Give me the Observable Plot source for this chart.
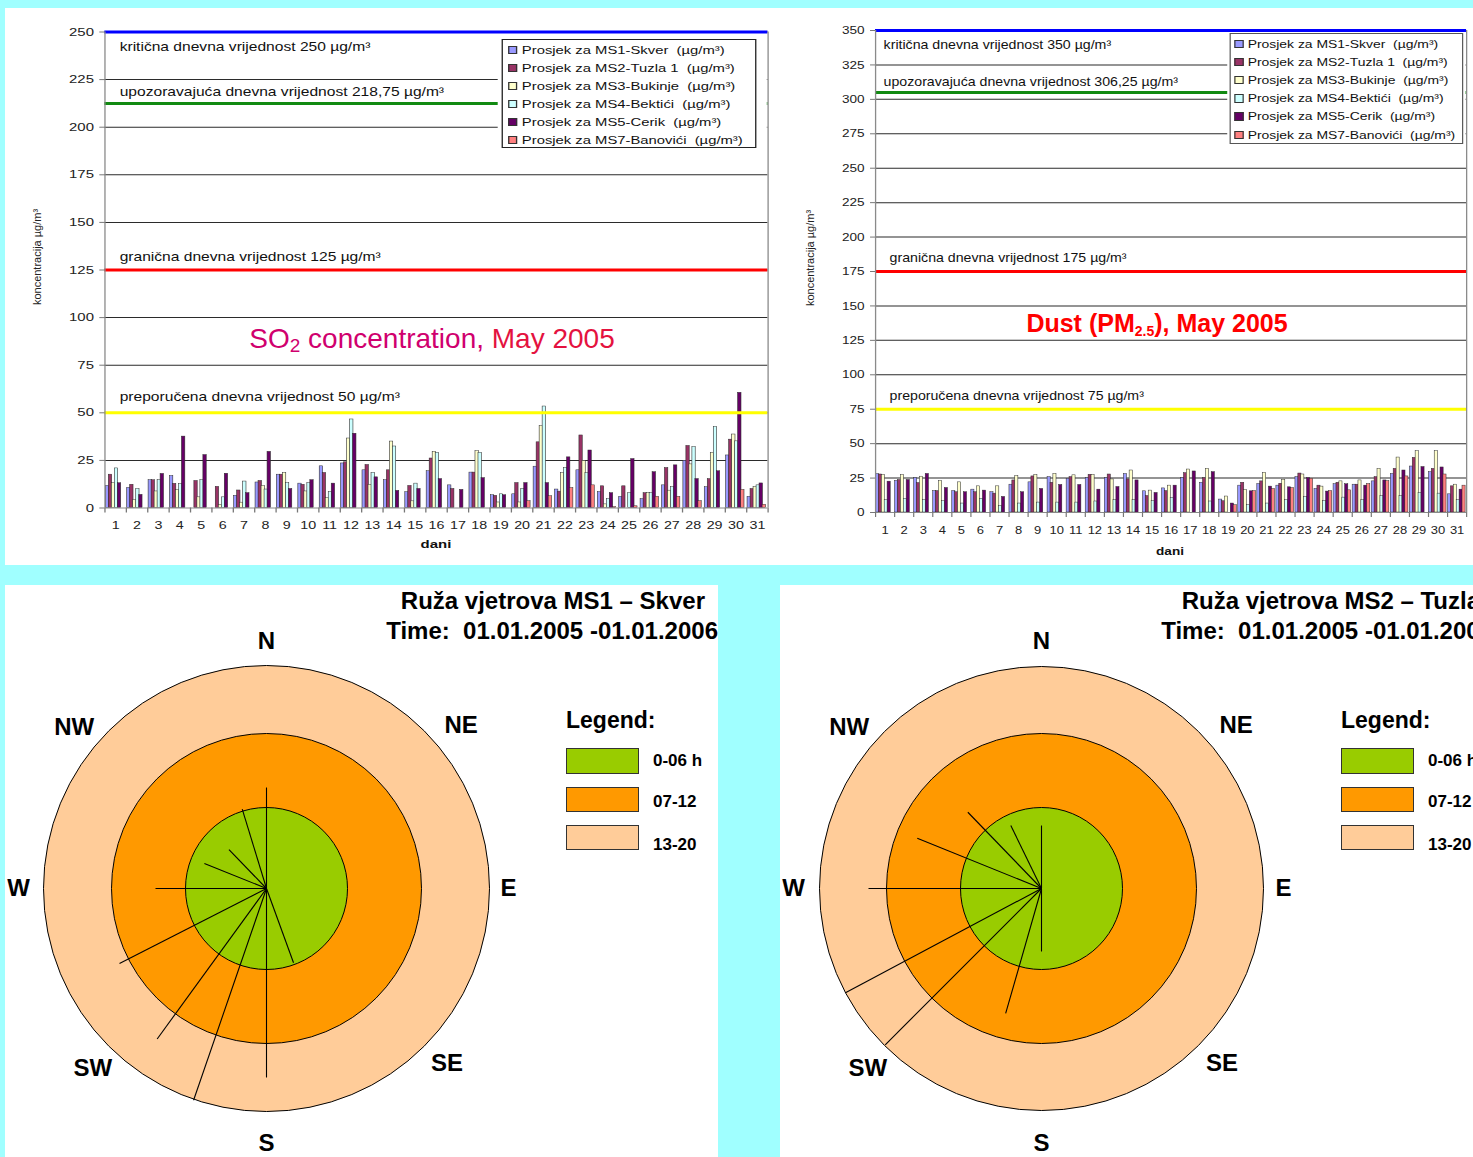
<!DOCTYPE html>
<html><head><meta charset="utf-8">
<script src="https://cdn.jsdelivr.net/npm/d3@7"></script>
<script src="https://cdn.jsdelivr.net/npm/@observablehq/plot@0.6"></script>
<style>
body{margin:0;width:1473px;height:1157px;background:#a0ffff;position:relative;overflow:hidden;font-family:"Liberation Sans",Arial,sans-serif;}
.panel{position:absolute;background:#fff;overflow:hidden}
.stretch{position:absolute;transform-origin:0 0}
.abs{position:absolute;white-space:nowrap}
.mask{position:absolute;background:#fff}
.legend{position:absolute;background:#fff;box-sizing:border-box;color:#111}
.legend .row{position:absolute;left:0;right:0;display:flex;align-items:center;white-space:pre}
.legend .sw{position:absolute;box-sizing:border-box;border:1px solid #333}
.legend .tx{position:absolute}
.rl{position:absolute;white-space:nowrap;font-weight:bold;color:#000}
</style>
</head><body>
<div class="panel" style="left:5px;top:8px;width:1468px;height:557px"></div>
<div class="panel" id="bl" style="left:5px;top:585px;width:713px;height:572px"></div>
<div class="panel" id="br" style="left:780px;top:585px;width:693px;height:572px"></div>
<div class="stretch" id="so2wrap" style="left:5px;top:8px;width:592px;height:557px;transform:scaleX(1.3)"></div>
<div class="stretch" id="dustwrap" style="left:780px;top:8px;width:587px;height:557px;transform:scaleX(1.18)"></div>
<script>
// ---------- data ----------
const days = [1,2,3,4,5,6,7,8,9,10,11,12,13,14,15,16,17,18,19,20,21,22,23,24,25,26,27,28,29,30,31];
const seriesNames = ["Prosjek za MS1-Skver  (µg/m³)","Prosjek za MS2-Tuzla 1  (µg/m³)","Prosjek za MS3-Bukinje  (µg/m³)","Prosjek za MS4-Bektići  (µg/m³)","Prosjek za MS5-Cerik  (µg/m³)","Prosjek za MS7-Banovići  (µg/m³)"];
const seriesColors = ["#9999ff","#993366","#ffffcc","#ccffff","#660066","#ff8080"];

const so2MS1 = [11.6,10.6,14.6,16.8,0,0,6.4,13.4,17.5,12.8,21.9,23.4,19.8,14.6,8.3,19.3,11.9,18.6,6.7,7.2,21.7,9.7,19.8,8.4,5.9,4.7,11.9,24.8,10.9,27.6,5.9];
const so2MS2 = [17.5,12.2,14.6,12.7,14.2,11.1,9.2,14.2,17.5,12.2,18.4,24,22.6,19.8,11.6,26,10,18.6,6.4,13.1,34.5,8.6,38.1,11.4,11.4,7.8,21,32.6,15.2,35.9,10];
const so2MS3 = [13,4.2,8.7,9.4,5.6,1.7,2.8,11.6,18.4,8.7,5.2,36.5,12.2,34.9,3.5,29.5,0,29.8,2.9,2.9,43,18.3,24.7,1.9,0,7.8,9.1,22.9,29,38.6,11];
const so2MS4 = [20.8,10,14.6,12.5,14.6,5.6,13.9,9.7,13,13,8.3,46.5,18.4,32.3,12.8,29,0,29,7.2,10,53.3,21,18.3,4.8,7.8,7.8,10.9,32,42.6,35,11.9];
const so2MS5 = [13,6.9,17.9,37.5,27.8,18,7.8,29.5,10,14.6,12.8,39,16.1,9,10,15.2,9.5,15.7,6.7,13.1,13.1,26.6,30.2,7.8,25.7,18.8,22.4,15.2,19.3,60.5,12.9];
const so2MS7 = [0,0,0,0,0,0,0,0,0,0,0,0,0,0,0,0,0,0,0,3.6,6.2,10.5,11.9,0.5,0.9,5.9,5.9,3.6,0,9.5,1.7];

const dustMS1 = [28,23,25,15.6,15.6,16.6,14.7,20.2,21.9,25.7,24.5,25,25,28,15.4,17.5,25,21.6,9.4,19.5,20.7,19.5,25.7,17.1,20.5,20.2,22.6,28,33.4,29.3,13.2];
const dustMS2 = [27.6,23.6,21.4,15.6,14.7,14.7,13.7,23.3,26.2,21.6,25.7,27.4,27.6,24,12,15.6,28.6,25,8.2,21.6,22.6,20.9,28.3,19.5,21.6,20.2,25.7,31.7,39.7,31.7,19];
const dustMS3 = [27.2,27.2,26,22.8,21.9,19,19,26.4,27.2,28.1,27,27.2,24,30.5,15.9,19.5,31.2,31.7,11.6,16.3,28.8,23.8,27.6,18.8,22.6,23.3,31.7,39.9,44.5,44.5,20.2];
const dustMS4 = [8.9,10,8.9,8.2,6.5,10,4.6,6.5,7.2,7.2,7.2,8,8.9,8.9,8.2,10.6,0,8,0,5.3,6.5,8.9,11.3,8.2,10.8,8.9,11.8,11.8,14.2,13.7,8.9];
const dustMS5 = [22.4,23.6,28,17.8,14.7,15.9,11.3,14.7,17.1,20,20,16.6,18.5,23.3,14.2,19.5,29.8,29.3,6.5,15.4,18.8,18.3,25,15.2,20.5,19.5,23.3,30.5,33,32.7,16.6];
const dustMS7 = [0,0,0,0,0,0,0,0,0,0,0,0,0,0,0,0,0,0,5.3,15.6,17.1,17.8,24.5,15.6,16.1,20.7,22.8,26.2,0,27.6,19.5];

const so2YTicks = [0,25,50,75,100,125,150,175,200,225,250];
const dustYTicks = [0,25,50,75,100,125,150,175,200,225,250,275,300,325,350];

const so2ThrValues = [250, 212.5, 125, 50];
const so2ThrLabels = ["kritična dnevna vrijednost 250 µg/m³","upozoravajuća dnevna vrijednost 218,75 µg/m³","granična dnevna vrijednost 125 µg/m³","preporučena dnevna vrijednost 50 µg/m³"];
const dustThrValues = [350, 305, 175, 75];
const dustThrLabels = ["kritična dnevna vrijednost 350 µg/m³","upozoravajuća dnevna vrijednost 306,25 µg/m³","granična dnevna vrijednost 175 µg/m³","preporučena dnevna vrijednost 75 µg/m³"];
const thrColors = ["#0000ff","#128a12","#ff0000","#ffff00"];

// wind roses
const ringLabels = ["13-20","07-12","0-06 h"];
const ringColors = ["#ffcc99","#ff9900","#99cc00"];
const ms1RingRadius = [223,155,81];
const ms2RingRadius = [222,155,81];
const ms1RayDir = [0,343,316,292,270,243,216,199,180,160];
const ms1RayLen = [101,83,54,67,111,165,186,224,189,79];
const ms2RayDir = [0,180,334,316,292,270,242,225,196];
const ms2RayLen = [63,63,70,106,134,173,222,221,130];
const compassLabels = ["N","NE","E","SE","S","SW","W","NW"];
const compassAngles = [0,50,90,134,180,224,270,310];
const compassRadius = [247,254,242,251,255,250,248,251];

// ---------- bar charts ----------
function barChart(cfg){
  const {S, width, height, mL, mR, mT, mB, yMax, yTicks, vals, thrV, thrL, thrDx, thrDy, barStart, barStep, barW, yTickSize, yTickPad} = cfg;
  const rows = [];
  days.forEach((day,i)=>vals.forEach((arr,j)=>{ if(arr[i]>0) rows.push({day, s:j, value:arr[i]}); }));
  const bw = (width-mL-mR)/days.length;
  const marks = [];
  marks.push(Plot.ruleY(yTicks.filter(v=>v>0), {stroke:"#2b2b2b", strokeWidth:1}));
  seriesColors.forEach((c,j)=>{
    const l = barStart + j*barStep;
    marks.push(Plot.rectY(rows.filter(r=>r.s===j), {x1:d=>d.day-0.5, x2:d=>d.day+0.5, y1:0, y2:"value",
      insetLeft:l, insetRight:bw-l-barW, fill:c, stroke:"#2a2a2a", strokeWidth:0.45}));
  });
  thrV.forEach((v,i)=>{
    marks.push(Plot.ruleY([v], {stroke:thrColors[i], strokeWidth:3}));
    marks.push(Plot.text([{v, label:thrL[i]}], {y:"v", text:"label", frameAnchor:"left", textAnchor:"start",
      dx:thrDx[i], dy:thrDy[i], fontSize:12, fill:"#111"}));
  });
  marks.push(Plot.ruleY([0], {stroke:"#8a8a8a", strokeWidth:1.2}));
  marks.push(Plot.ruleX([0.5, 31.5], {y1:0, y2:yMax, stroke:"#8a8a8a", strokeWidth:1.3/S}));
  marks.push(Plot.axisY({ticks:yTicks, tickSize:yTickSize, tickPadding:yTickPad, stroke:"#777", fill:"#222", label:null, tickFormat:d=>String(d)}));
  marks.push(Plot.axisX({ticks:days.map(d=>d-0.5).concat([31.5]), tickSize:5, tickFormat:()=>"", stroke:"#777", label:null}));
  marks.push(Plot.axisX({ticks:days, tickSize:0, tickPadding:13.5, fill:"#222", label:null, fontSize:11}));
  return Plot.plot({width, height, marginLeft:mL, marginRight:mR, marginTop:mT, marginBottom:mB,
    x:{domain:[0.5,31.5]}, y:{domain:[0,yMax]},
    style:{fontFamily:"'Liberation Sans', Arial, sans-serif", fontSize:"11.5px", background:"transparent", overflow:"visible"},
    marks});
}

function addLegend(wrap, o){
  const mask = document.createElement("div");
  mask.className="mask";
  Object.assign(mask.style,{left:(o.left-o.padL)+"px", top:(o.top-o.padT)+"px", width:(o.maskRight-(o.left-o.padL))+"px", height:(o.height+o.padT+o.padB)+"px"});
  wrap.appendChild(mask);
  const lg = document.createElement("div");
  lg.className="legend";
  Object.assign(lg.style,{left:o.left+"px", top:o.top+"px", width:o.width+"px", height:o.height+"px", border:"1px solid "+o.border, fontSize:o.fs+"px"});
  seriesNames.forEach((name,i)=>{
    const row = document.createElement("div");
    row.className="row";
    Object.assign(row.style,{top:(o.first + i*o.step - 9)+"px", height:"18px"});
    const sw = document.createElement("span"); sw.className="sw";
    Object.assign(sw.style,{left:o.swL+"px", top:"4.5px", width:o.swW+"px", height:o.swH+"px", background:seriesColors[i]});
    const tx = document.createElement("span"); tx.className="tx"; tx.textContent=name;
    Object.assign(tx.style,{left:o.txL+"px", top:"1.5px", lineHeight:"15px"});
    row.appendChild(sw); row.appendChild(tx); lg.appendChild(row);
  });
  wrap.appendChild(lg);
  const dl = document.createElement("div");
  dl.className="abs";
  Object.assign(dl.style,{left:o.daniX+"px", top:o.daniY+"px", transform:"translate(-50%,-50%)", fontWeight:"bold", fontSize:"11.5px", color:"#111"});
  dl.textContent="dani";
  wrap.appendChild(dl);
}

const so2Wrap = document.getElementById("so2wrap");
so2Wrap.appendChild(barChart({S:1.3, width:592, height:557, mL:76.4, mR:5.5, mT:23.5, mB:57.5, yMax:250, yTicks:so2YTicks,
  vals:[so2MS1,so2MS2,so2MS3,so2MS4,so2MS5,so2MS7], thrV:so2ThrValues, thrL:so2ThrLabels,
  thrDx:[11.3,11.3,11.3,11.3], thrDy:[15.5,-11,-13,-16], barStart:0.77, barStep:2.31, barW:2.54, yTickSize:3.85, yTickPad:4.6}));
addLegend(so2Wrap,{left:382.3, top:31, width:196, height:109, first:10, step:18, swL:3.5, swW:7, swH:8, txL:14.3, fs:11.4,
  padL:3.8, padT:4, padB:4, maskRight:585.8, border:"#222", daniX:331.5, daniY:536});

const dustWrap = document.getElementById("dustwrap");
dustWrap.appendChild(barChart({S:1.18, width:587, height:557, mL:80.5, mR:5.6, mT:22, mB:53, yMax:350, yTicks:dustYTicks,
  vals:[dustMS1,dustMS2,dustMS3,dustMS4,dustMS5,dustMS7], thrV:dustThrValues, thrL:dustThrLabels,
  thrDx:[6.8,6.8,11.9,11.9], thrDy:[15,-10,-13,-13], barStart:0.42, barStep:2.46, barW:2.63, yTickSize:4.2, yTickPad:5.1}));
addLegend(dustWrap,{left:380.5, top:25, width:198.3, height:111, first:10, step:18.2, swL:3.6, swW:7.6, swH:8.5, txL:14.8, fs:11.8,
  padL:1.7, padT:1, padB:3, maskRight:581, border:"#555", daniX:330.5, daniY:543});

// body-level texts
function bodyText(html, style){
  const d = document.createElement("div"); d.className="abs"; d.innerHTML=html; Object.assign(d.style, style); document.body.appendChild(d); return d;
}
bodyText("koncentracija µg/m³", {left:"37px", top:"257px", transform:"translate(-50%,-50%) rotate(-90deg)", fontSize:"11px", color:"#222"});
bodyText("koncentracija µg/m³", {left:"810px", top:"258px", transform:"translate(-50%,-50%) rotate(-90deg)", fontSize:"11px", color:"#222"});
bodyText('<span style="color:#d0006e">SO<span style="font-size:19px;vertical-align:-4px">2</span> concentration,</span> <span style="color:#e4123f">May 2005</span>',
  {left:"432px", top:"340px", transform:"translate(-50%,-50%)", fontSize:"28px"});
bodyText('Dust (PM<span style="font-size:14px;vertical-align:-4px">2.5</span>), May 2005',
  {left:"1157px", top:"324px", transform:"translate(-50%,-50%)", fontSize:"25px", fontWeight:"bold", color:"#ff0000"});

// ---------- wind roses ----------
function rosePanel(panel, width, radii, dirs, lens, stationTitle){
  const height = 572, cx = 261, cy = 303;
  const rad = a => a*Math.PI/180;
  const rays = dirs.map((d,i)=>({dir:d, len:lens[i]}));
  const marks = [];
  radii.forEach((r,i)=>marks.push(Plot.dot([{r}], {x:0, y:0, r:"r", fill:ringColors[i], stroke:"#000", strokeWidth:1})));
  marks.push(Plot.link(rays, {x1:0, y1:0, x2:d=>d.len*Math.sin(rad(d.dir)), y2:d=>d.len*Math.cos(rad(d.dir)), stroke:"#000", strokeWidth:1.1}));
  marks.push(Plot.text(compassLabels, {x:(d,i)=>compassRadius[i]*Math.sin(rad(compassAngles[i])), y:(d,i)=>compassRadius[i]*Math.cos(rad(compassAngles[i])), text:d=>d,
    fontSize:24, fontWeight:"bold", fill:"#000"}));
  const svg = Plot.plot({width, height, margin:0, x:{domain:[-cx, width-cx], axis:null}, y:{domain:[cy-height, cy], axis:null},
    r:{type:"linear", domain:[0,400], range:[0,400]},
    style:{fontFamily:"'Liberation Sans', Arial, sans-serif", background:"transparent", overflow:"hidden"}, marks});
  panel.appendChild(svg);
  const add = (txt, st) => { const d=document.createElement("div"); d.className="rl"; d.textContent=txt; Object.assign(d.style, st); panel.appendChild(d); };
  add(stationTitle, {left:"700px", top:"16px", transform:"translate(-100%,-50%)", fontSize:"24px"});
  add("Time:  01.01.2005 -01.01.2006", {left:"713px", top:"46px", transform:"translate(-100%,-50%)", fontSize:"24px", whiteSpace:"pre"});
  add("Legend:", {left:"561px", top:"135px", transform:"translateY(-50%)", fontSize:"23px"});
  const boxTops = [163, 202, 240], boxH = [26, 25, 25], labTops = [176, 217, 260];
  ringLabels.slice().reverse().forEach((lab,k)=>{
    const b = document.createElement("div");
    Object.assign(b.style,{position:"absolute", left:"561px", top:boxTops[k]+"px", width:"73px", height:boxH[k]+"px", boxSizing:"border-box",
      border:"1.5px solid #333", background:ringColors[2-k]});
    panel.appendChild(b);
    add(lab, {left:"648px", top:labTops[k]+"px", transform:"translateY(-50%)", fontSize:"17px"});
  });
}
rosePanel(document.getElementById("bl"), 713, ms1RingRadius, ms1RayDir, ms1RayLen, "Ruža vjetrova MS1 – Skver");
rosePanel(document.getElementById("br"), 693, ms2RingRadius, ms2RayDir, ms2RayLen, "Ruža vjetrova MS2 – Tuzla");
</script>
</body></html>
